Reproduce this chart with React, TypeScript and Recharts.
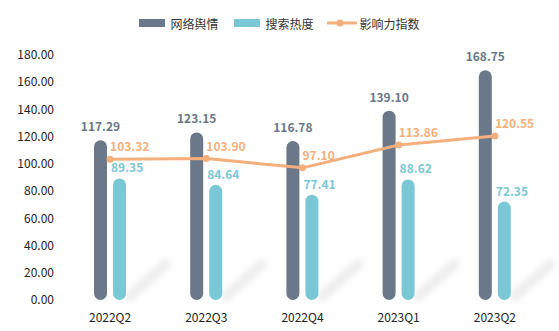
import React from 'react';
import {
  ComposedChart,
  Bar,
  Line,
  XAxis,
  YAxis,
  LabelList
} from 'recharts';

// 季度
const categories = ['2022Q2', '2022Q3', '2022Q4', '2023Q1', '2023Q2'];
// 网络舆情
const sentimentValues = [117.29, 123.15, 116.78, 139.10, 168.75];
// 搜索热度
const searchValues = [89.35, 84.64, 77.41, 88.62, 72.35];
// 影响力指数
const influenceValues = [103.32, 103.90, 97.10, 113.86, 120.55];
const yTicks = [0, 20, 40, 60, 80, 100, 120, 140, 160, 180];

const DARK = '#6a7889';
const CYAN = '#7ac7d5';
const ORANGE = '#f4af7c';
const FONT = '"Noto Sans CJK SC", "Noto Sans", sans-serif';

const chartData = categories.map((name, i) => ({
  name,
  sentiment: sentimentValues[i],
  search: searchValues[i],
  influence: influenceValues[i]
}));

// 青色柱 + 右下角斜向阴影
const CyanShape = (props: any) => {
  const { x, y, width, height, fill } = props;
  const r = width / 2;
  const bottom = y + height;
  return (
    <g>
      <line
        x1={x + width + 4}
        y1={bottom - 4}
        x2={x + width + 40}
        y2={bottom - 36}
        stroke="#000"
        strokeOpacity={0.07}
        strokeWidth={10}
        strokeLinecap="round"
        filter="url(#shadowBlur)"
      />
      <rect x={x} y={y} width={width} height={height} rx={r} ry={r} fill={fill} />
    </g>
  );
};

const DarkShape = (props: any) => {
  const { x, y, width, height, fill } = props;
  const r = width / 2;
  return <rect x={x} y={y} width={width} height={height} rx={r} ry={r} fill={fill} />;
};

const DarkLabel = (props: any) => {
  const { x, y, width, value } = props;
  return (
    <text x={x + width / 2} y={y - 9} textAnchor="middle" fill={DARK} fontSize={12} fontWeight="bold" fontFamily={FONT}>
      {Number(value).toFixed(2)}
    </text>
  );
};

const CyanLabel = (props: any) => {
  const { x, y, value } = props;
  return (
    <text x={x - 2} y={y - 6} textAnchor="start" fill={CYAN} fontSize={12} fontWeight="bold" fontFamily={FONT}>
      {Number(value).toFixed(2)}
    </text>
  );
};

const OrangeLabel = (props: any) => {
  const { x, y, value } = props;
  return (
    <text x={x} y={y - 8} textAnchor="start" fill={ORANGE} fontSize={12} fontWeight="bold" fontFamily={FONT}>
      {Number(value).toFixed(2)}
    </text>
  );
};

const ChartLegend = () => {
  const textStyle: React.CSSProperties = { fontSize: 12, color: '#333', fontFamily: FONT, marginLeft: 5 };
  return (
    <div style={{ position: 'absolute', left: 0, top: 13, width: 559, display: 'flex', justifyContent: 'center', alignItems: 'center', height: 20 }}>
      <div style={{ display: 'flex', alignItems: 'center', marginRight: 16 }}>
        <div style={{ width: 26, height: 8, background: DARK }} />
        <span style={textStyle}>网络舆情</span>
      </div>
      <div style={{ display: 'flex', alignItems: 'center', marginRight: 13 }}>
        <div style={{ width: 26, height: 8, background: CYAN }} />
        <span style={textStyle}>搜索热度</span>
      </div>
      <div style={{ display: 'flex', alignItems: 'center' }}>
        <svg width={30} height={10}>
          <line x1={0} y1={5} x2={30} y2={5} stroke={ORANGE} strokeWidth={3} />
          <circle cx={13} cy={5} r={3.5} fill={ORANGE} />
        </svg>
        <span style={{ ...textStyle, marginLeft: 3 }}>影响力指数</span>
      </div>
    </div>
  );
};

export default function App() {
  return (
    <div style={{ position: 'absolute', left: 0, top: 0, width: 559, height: 331, background: '#fff' }}>
      <ChartLegend />
      <ComposedChart
        width={559}
        height={331}
        data={chartData}
        margin={{ top: 55, right: 16, left: 0, bottom: 1 }}
        barGap={6}
      >
        <defs>
          <filter id="shadowBlur" x="-50%" y="-50%" width="200%" height="200%">
            <feGaussianBlur stdDeviation={3} />
          </filter>
        </defs>
        <XAxis
          dataKey="name"
          height={30}
          axisLine={false}
          tickLine={false}
          tickSize={0}
          tickMargin={13}
          tick={{ fontSize: 12, fill: '#222', fontFamily: FONT }}
        />
        <YAxis
          width={62}
          domain={[0, 180]}
          ticks={yTicks}
          axisLine={false}
          tickLine={false}
          tickSize={0}
          tickMargin={8}
          tickFormatter={(v: number) => v.toFixed(2)}
          tick={{ fontSize: 12, fill: '#222', fontFamily: FONT }}
        />
        <Bar dataKey="sentiment" name="网络舆情" fill={DARK} barSize={13} shape={<DarkShape />} isAnimationActive={false}>
          <LabelList dataKey="sentiment" content={<DarkLabel />} />
        </Bar>
        <Bar dataKey="search" name="搜索热度" fill={CYAN} barSize={13} shape={<CyanShape />} isAnimationActive={false}>
          <LabelList dataKey="search" content={<CyanLabel />} />
        </Bar>
        <Line
          dataKey="influence"
          name="影响力指数"
          stroke={ORANGE}
          strokeWidth={3}
          dot={{ r: 3.5, fill: ORANGE, stroke: ORANGE, strokeWidth: 0 }}
          activeDot={false}
          isAnimationActive={false}
        >
          <LabelList dataKey="influence" content={<OrangeLabel />} />
        </Line>
      </ComposedChart>
    </div>
  );
}
